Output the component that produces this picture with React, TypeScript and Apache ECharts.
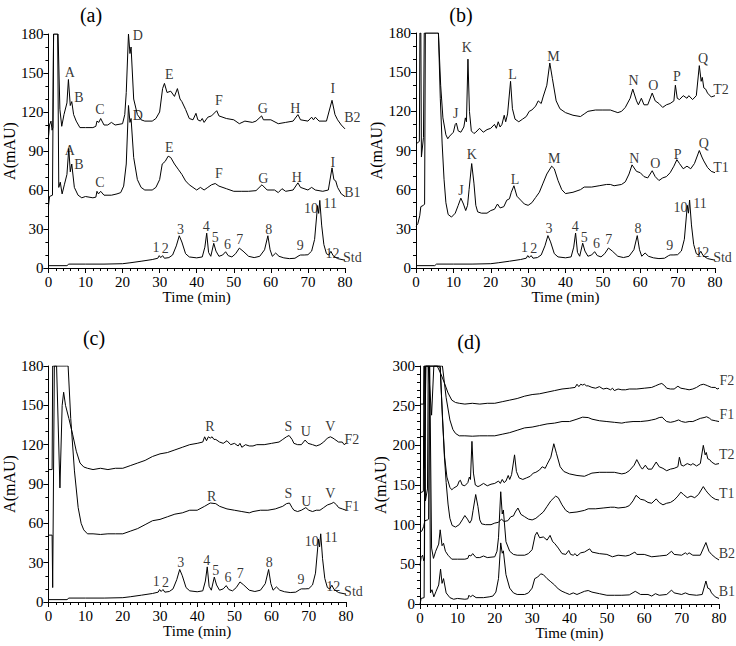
import React, { useEffect, useRef } from "react";
import * as echarts from "echarts";

// ---- Chromatogram traces: [time (min), absorbance (mAU)] ----
const stdTrace = [
  [0, 1.8], [5, 1.8], [5.5, 3], [10, 3], [15, 3], [20, 3.3], [22, 4], [25, 5.2], [28, 6.5], [29.5, 7.5],
  [29.9, 9.5], [30.3, 8], [30.8, 9.5], [31.3, 7.5], [32.5, 8], [33.5, 10], [34.5, 17], [35.3, 24.8], [36, 20],
  [37, 11], [38, 8.5], [40, 7.8], [41.5, 8.5], [42.2, 16], [42.7, 26.8], [43.2, 12], [43.8, 9], [44.6, 19],
  [45.2, 13], [46, 9], [47, 10], [47.8, 12.5], [48.5, 9.5], [49.5, 8.5], [50.5, 11], [51.5, 15.3], [52.5, 13],
  [54, 9], [55.5, 8], [57, 9], [58.3, 14], [59.2, 24.8], [59.8, 14], [60.4, 9], [61.3, 11.5], [62.2, 9],
  [63.5, 7.8], [65, 7.2], [66.5, 7.5], [67.6, 9.5], [68, 10], [69, 10], [70, 10.2], [71, 13], [71.8, 22],
  [72.6, 48], [72.9, 42], [73.2, 52], [73.7, 33], [74.3, 18], [75, 11], [75.6, 10], [76.2, 12.8], [76.8, 9.5],
  [78, 7.2], [80, 6],
];

const b1Trace = [
  [0, 47], [0.3, 55], [1.1, 56], [1.4, 400], [2.5, 400], [2.8, 62], [3.2, 66], [3.7, 57], [4.3, 64], [5.0, 72],
  [5.5, 92], [5.9, 74], [6.3, 80], [7.0, 62], [8, 56], [9, 54], [10, 55], [12, 54], [12.8, 54.5], [13.1, 59],
  [13.5, 57], [14.1, 59], [15, 56], [17, 56], [18.5, 57], [19.5, 58], [20.3, 63], [21, 80], [21.6, 125],
  [22, 112], [22.3, 115], [23, 85], [24, 68], [25, 62], [26, 60], [28, 60], [29, 62], [30, 68], [30.7, 80],
  [31.5, 82], [32.3, 86], [33, 85], [34, 80], [35, 76], [36, 72], [37, 67], [38, 64], [39, 62], [40, 60],
  [41, 62], [42, 60], [43, 62], [44, 64], [45, 65], [46, 63], [48, 61], [50, 59], [52, 59], [54, 59],
  [56, 59.5], [57.6, 64], [59, 60], [61, 60], [62, 58], [63, 61], [64, 59], [66, 60], [67.3, 65.5], [68, 62],
  [70, 60], [71, 62], [72, 60], [74, 59], [75.5, 60], [76.5, 77], [77, 68], [77.5, 67], [78, 62], [79, 57],
  [80, 55],
];

const b2Trace = [
  [0, 100], [0.3, 110], [0.7, 113], [1.0, 106], [1.2, 108], [1.4, 400], [2.6, 400], [3.1, 122], [3.6, 109],
  [4.2, 118], [5, 127], [5.4, 145], [5.9, 125], [6.3, 128], [6.8, 118], [7.5, 113], [8.5, 108], [10, 108],
  [12, 108], [12.8, 109], [13.1, 113], [13.6, 112], [14.1, 115], [15, 110], [16, 110], [17, 112], [18, 110],
  [20, 111], [20.6, 118], [21, 135], [21.6, 193], [22, 165], [22.3, 170], [23, 130], [24, 118], [25, 114],
  [26, 113], [28, 113], [29, 115], [30, 120], [30.8, 138], [31.3, 142], [32, 135], [33, 136], [34, 132],
  [34.8, 138], [35.5, 130], [36, 128], [37, 122], [38, 115], [39, 114], [39.8, 119], [40.3, 114], [41, 113],
  [41.5, 115], [42, 112], [43, 116], [44, 117], [45.4, 121], [46, 117], [48, 115], [50, 114], [51.5, 111],
  [53, 113], [55, 112], [56, 113], [57.5, 117], [58, 114], [60, 114], [62, 111], [64, 112], [66, 113],
  [67.3, 118], [68, 114], [70, 113], [71, 116], [71.5, 114], [72, 116], [73, 113], [75, 113], [76.5, 129],
  [77.3, 118], [78, 114], [79, 110], [80, 107],
];

const t1Trace = [
  [0, 32], [0.5, 34], [1, 40], [1.3, 47], [2, 48], [2.3, 49], [2.5, 400], [4.8, 400], [5.4, 240], [6.0, 180],
  [6.5, 130], [7, 95], [7.5, 68], [8, 50], [8.6, 41], [9.5, 39], [10.5, 42], [11.3, 48], [12, 53.5],
  [12.7, 49], [13.3, 44], [13.8, 48], [14.2, 60], [14.9, 80], [15.5, 65], [16, 48], [16.5, 43], [17.5, 42],
  [19, 42], [20, 44], [21, 45], [21.8, 49], [22.5, 46], [23.5, 47], [24.3, 52], [25, 53], [25.5, 58],
  [26.2, 63], [27, 55], [28, 52], [29, 49], [30, 48], [31, 50], [32, 54], [33, 58], [34, 65], [35, 72],
  [36.3, 78], [37, 76], [38, 67], [39, 60], [40, 57], [42, 58], [44, 60], [45, 62], [47, 62], [49, 63],
  [51, 64], [52, 64], [53, 63], [55, 64], [56, 66], [57, 72], [57.8, 79], [59, 74], [60, 73], [61, 70],
  [62, 69], [63.2, 74.5], [64, 70], [65, 67], [66, 69], [67, 70], [68, 73], [69, 78], [69.8, 83], [70.5, 80],
  [71.5, 76], [72.5, 78], [73.5, 76], [74.5, 80], [75.8, 90], [76.5, 85], [77, 82], [78, 77], [79, 74],
  [80, 73],
];

const t2Trace = [
  [0, 95], [0.9, 97], [1.05, 400], [1.3, 400], [1.45, 85], [2.0, 100], [2.2, 400], [5.4, 400], [6.0, 190],
  [6.6, 140], [7.2, 115], [8, 102], [8.5, 99], [9, 101], [10, 104], [10.5, 110], [10.8, 111], [11.3, 105],
  [12, 104], [12.8, 108], [13.2, 115], [13.5, 112], [13.9, 160], [14.3, 120], [14.8, 105], [15.5, 103],
  [16, 104], [17, 107], [18, 104], [19, 106], [20, 107], [21, 110], [21.5, 107], [22, 112], [22.5, 108],
  [23, 110], [23.6, 117], [24, 112], [24.5, 118], [25.3, 143], [25.8, 122], [26.5, 114], [27.5, 112],
  [28.5, 114], [29.5, 116], [30.3, 120], [31, 121], [32, 124], [32.7, 128], [33.5, 126], [34, 131], [35, 140],
  [35.8, 157], [36.5, 145], [37.5, 128], [38.5, 122], [40, 119], [42, 117], [44, 116], [45, 118], [46, 120],
  [48, 121], [50, 121], [52, 121], [53, 120], [54, 119], [55, 120], [56, 123], [57.3, 130], [58, 137],
  [59, 128], [59.5, 125], [60.3, 130], [61, 125], [62, 125], [63.2, 134], [64, 128], [65, 126], [66, 123],
  [67, 125], [68, 126], [69, 128], [69.4, 140], [69.9, 130], [70.5, 129], [71.5, 132], [72.5, 130], [73, 132],
  [74, 129], [75, 132], [75.8, 155], [76.3, 143], [76.6, 146], [77, 138], [77.5, 137], [78, 134], [79, 131],
  [80, 132],
];

const f1Trace = [
  [0, 51], [1.0, 51], [1.15, 11], [1.6, 400], [4.8, 400], [5.3, 180], [6, 140], [7, 100], [8, 72], [8.8, 60],
  [9.5, 55], [10.5, 52], [12, 52], [14, 51.5], [16, 52], [18, 52], [20, 52], [22, 54], [24, 56], [26, 59],
  [28, 62], [30, 63], [32, 65], [34, 67], [36, 68], [38, 70], [40, 70], [42, 73], [43.5, 75.5], [45, 75],
  [46, 73], [48, 71], [50, 70], [52, 69], [54, 68], [55, 69], [57, 70], [59, 70], [61, 71], [62, 72], [63, 73],
  [64, 75], [64.8, 75.5], [65.5, 72], [66, 70], [67, 69], [68, 70], [69.2, 72], [70, 70], [71, 69], [72, 70],
  [73, 70], [74, 72], [75, 74], [76, 75], [76.7, 76], [77.5, 74], [78, 72], [79, 71], [80, 70],
];

const f2Trace = [
  [0, 101], [1.0, 101], [1.15, 400], [2.2, 400], [3.1, 87], [3.7, 150], [4.1, 160], [4.6, 150], [5.5, 140],
  [6.5, 128], [7.5, 115], [8.5, 106], [9.5, 103], [10.5, 102], [12, 101], [14, 102], [16, 101], [18, 102],
  [20, 102], [22, 104], [24, 106], [26, 108], [28, 111], [30, 113], [32, 114], [34, 116], [36, 118], [38, 120],
  [40, 121], [41.5, 122], [42, 126], [42.5, 123], [43, 126], [43.5, 125], [44, 126], [44.5, 124], [45, 124],
  [46, 122], [47, 121], [48, 123], [49, 120], [50, 121], [51, 119], [51.5, 121], [52, 118], [53, 120],
  [54, 119], [55, 119], [56, 120], [58, 120], [60, 121], [62, 122], [63, 124], [64, 126], [64.7, 127],
  [65.5, 124], [66, 121], [67, 120], [68, 120], [69, 123.5], [69.8, 121], [71, 120], [72, 119], [73, 120],
  [74, 122], [75, 125], [75.8, 126], [76.5, 125], [77, 124], [78, 122], [79, 122], [79.5, 120], [80, 121],
];

// Vertical shifts of the traces in panel (d), mAU
const dOffsets = { B1: -48, B2: -51.5, T1: 58, T2: 45, F1: 160, F2: 151 };

// ---- Peak / trace labels: [time, mAU, text] ----
const stdLabels = [
  [29.0, 15.5, "1"], [31.5, 14.8, "2"], [35.6, 30, "3"], [42.6, 32, "4"], [45, 23.7, "5"], [48.3, 18.4, "6"],
  [51.6, 22, "7"], [59.4, 30, "8"], [67.9, 17, "9"], [70.8, 46, "10"], [76, 49.3, "11"], [76.6, 11.5, "12"],
  [82, 7.7, "Std"],
];
const b2Labels = [
  [5.8, 150.6, "A"], [8.2, 131, "B"], [13.9, 122, "C"], [24.1, 179, "D"], [32.6, 149, "E"], [46, 129, "F"],
  [57.8, 122.5, "G"], [66.6, 123, "H"], [76.7, 138, "I"], [82, 115.6, "B2"],
];
const b1Labels = [
  [5.8, 90.6, "A"], [8.2, 80, "B"], [13.9, 65.6, "C"], [24.1, 117, "D"], [32.6, 93, "E"], [46, 72.8, "F"],
  [58, 69, "G"], [67, 69.7, "H"], [76.7, 81, "I"], [82, 58, "B1"],
];
const t2Labels = [
  [10.6, 118, "J"], [13.6, 169, "K"], [25.8, 148, "L"], [36.8, 162, "M"], [58.2, 143.5, "N"], [63.5, 139.6, "O"],
  [69.8, 147, "P"], [76.8, 160.8, "Q"], [81.6, 136.6, "T2"],
];
const t1Labels = [
  [12, 59.5, "J"], [14.9, 87, "K"], [26.5, 67.6, "L"], [37, 84, "M"], [58.4, 83.5, "N"], [64, 80, "O"],
  [70, 87, "P"], [77, 95, "Q"], [81.6, 76.6, "T1"],
];
const f2Labels = [
  [43.4, 133.7, "R"], [64.5, 133.7, "S"], [69.2, 130.4, "U"], [75.8, 133.7, "V"], [81.6, 123.6, "F2"],
];
const f1Labels = [
  [43.9, 80.8, "R"], [64.5, 82.9, "S"], [69.3, 77, "U"], [75.8, 82.9, "V"], [81.6, 72.5, "F1"],
];
const dLabels = [
  [82.1, 281.8, "F2"], [82.1, 238.5, "F1"], [82.1, 189, "T2"], [82.1, 139.7, "T1"], [82.1, 64, "B2"], [82.1, 15.5, "B1"],
];

const panelTitles = ["(a)", "(b)", "(c)", "(d)"];
const xTicks = { min: 0, max: 80, interval: 10 };
const yTicksABC = { min: 0, max: 180, interval: 30 };
const yTicksD = { min: 0, max: 300, interval: 50 };

const FONT = "Liberation Serif";

export default function App() {
  const ref = useRef<HTMLDivElement>(null);

  useEffect(() => {
    if (!ref.current) return;
    const chart = echarts.init(ref.current, undefined, { renderer: "svg" });

    const grids = [
      { left: 47, top: 34, width: 298, height: 234 },
      { left: 416, top: 33, width: 299, height: 235 },
      { left: 43, top: 366, width: 303, height: 236 },
      { left: 420, top: 366, width: 299, height: 238 },
    ];
    const yNameGaps = [26, 27, 22, 31];

    const txt = (size: number) => ({
      fontFamily: FONT,
      fontSize: size,
      fontWeight: "normal" as const,
      color: "#000",
    });

    const xAxes = grids.map((_, i) => ({
      type: "value",
      gridIndex: i,
      min: xTicks.min,
      max: xTicks.max,
      interval: xTicks.interval,
      name: "Time (min)",
      nameLocation: "middle",
      nameGap: 19,
      nameTextStyle: txt(15),
      axisLine: { show: true, lineStyle: { color: "#000", width: 1 } },
      axisTick: { show: true, length: 5, lineStyle: { color: "#000" } },
      minorTick: { show: true, splitNumber: 5, length: 3, lineStyle: { color: "#000" } },
      splitLine: { show: false },
      axisLabel: { ...txt(15), margin: 6 },
    }));

    const yAxes = grids.map((_, i) => {
      const t = i === 3 ? yTicksD : yTicksABC;
      return {
        type: "value",
        gridIndex: i,
        min: t.min,
        max: t.max,
        interval: t.interval,
        name: "A(mAU)",
        nameLocation: "middle",
        nameRotate: 90,
        nameGap: yNameGaps[i],
        nameTextStyle: txt(16),
        axisLine: { show: true, lineStyle: { color: "#000", width: 1 } },
        axisTick: { show: true, length: 5, lineStyle: { color: "#000" } },
        minorTick: { show: true, splitNumber: i === 3 ? 5 : 3, length: 3, lineStyle: { color: "#000" } },
        splitLine: { show: false },
        axisLabel: { ...txt(15), margin: 5 },
      };
    });

    const lineSeries = (data: number[][], idx: number, offset: number, max: number) => ({
      type: "line",
      xAxisIndex: idx,
      yAxisIndex: idx,
      data: data.map(([t, v]) => [t, Math.min(v + offset, max)]),
      showSymbol: false,
      symbol: "none",
      lineStyle: { color: "#000", width: 1 },
      itemStyle: { color: "#000" },
      silent: true,
      clip: true,
    });

    const labelSeries = (labels: any[][], idx: number) => ({
      type: "scatter",
      xAxisIndex: idx,
      yAxisIndex: idx,
      data: labels.map(([t, v, s]) => ({ value: [t, v], name: s })),
      symbolSize: 1,
      itemStyle: { color: "rgba(0,0,0,0)" },
      clip: false,
      silent: true,
      label: {
        show: true,
        position: "inside",
        formatter: "{b}",
        ...txt(14),
        textBorderWidth: 0,
        textBorderColor: "rgba(0,0,0,0)",
      },
    });

    const series = [
      // (a)
      lineSeries(b2Trace, 0, 0, 180),
      lineSeries(b1Trace, 0, 0, 180),
      lineSeries(stdTrace, 0, 0, 180),
      labelSeries(b2Labels, 0),
      labelSeries(b1Labels, 0),
      labelSeries(stdLabels, 0),
      // (b)
      lineSeries(t2Trace, 1, 0, 180),
      lineSeries(t1Trace, 1, 0, 180),
      lineSeries(stdTrace, 1, 0, 180),
      labelSeries(t2Labels, 1),
      labelSeries(t1Labels, 1),
      labelSeries(stdLabels, 1),
      // (c)
      lineSeries(f2Trace, 2, 0, 180),
      lineSeries(f1Trace, 2, 0, 180),
      lineSeries(stdTrace, 2, 0, 180),
      labelSeries(f2Labels, 2),
      labelSeries(f1Labels, 2),
      labelSeries(stdLabels, 2),
      // (d)
      lineSeries(f2Trace, 3, dOffsets.F2, 300),
      lineSeries(f1Trace, 3, dOffsets.F1, 300),
      lineSeries(t2Trace, 3, dOffsets.T2, 300),
      lineSeries(t1Trace, 3, dOffsets.T1, 300),
      lineSeries(b2Trace, 3, dOffsets.B2, 300),
      lineSeries(b1Trace, 3, dOffsets.B1, 300),
      labelSeries(dLabels, 3),
    ];

    const titlePos = [
      [91, 15],
      [461, 15],
      [94, 338],
      [469, 342],
    ];

    chart.setOption({
      animation: false,
      backgroundColor: "#fff",
      color: ["#000"],
      textStyle: { fontFamily: FONT, color: "#000" },
      grid: grids,
      xAxis: xAxes,
      yAxis: yAxes,
      series,
      graphic: panelTitles.map((t, i) => ({
        type: "text",
        x: titlePos[i][0],
        y: titlePos[i][1],
        style: {
          text: t,
          fontFamily: FONT,
          fontSize: 20,
          fill: "#000",
          textAlign: "center",
          textVerticalAlign: "middle",
        },
      })),
    });

    return () => chart.dispose();
  }, []);

  return (
    <div
      ref={ref}
      style={{ position: "absolute", left: 0, top: 0, width: 736, height: 646, background: "#fff" }}
    />
  );
}
